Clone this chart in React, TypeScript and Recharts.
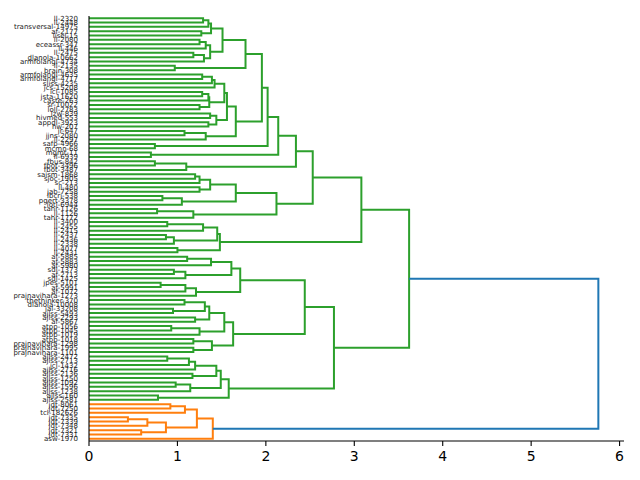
import React from "react";
import { LineChart, Line, XAxis, YAxis } from "recharts";

// dendrogram leaves, top to bottom
const leafLabels = [
  "ll-2320", "ll-2448", "transversal-14975", "af-2177", "lisel-15", "ll-2080",
  "eceassr-347", "ll-446", "ll-2475", "dlanola-10662", "armfolangl-4734", "ll-2135",
  "brain-308", "armfolangl-4635", "armfolangl-4717", "sliss-4235", "jcs-15208", "icl-1085",
  "jsta-11620", "caste-263", "sr-10022", "loll-2783", "lzw-839", "hivmed-553",
  "appdl-3923", "hw-207", "jr-647", "jjns-2080", "ll-2297", "safp-4966",
  "mcmn-68", "mgmt-11", "ll-6939", "fbus-842", "fbot-3496", "fbot-3487",
  "saism-1868", "sjoc-1905", "sc-213", "ll-480", "jab-7258", "lbcrj-538",
  "pgert-3378", "lotl-6944", "tahr-1126", "ll-1126", "tahr-1772", "ll-3400",
  "ll-2455", "ll-2415", "ll-2437", "ll-2436", "ll-2338", "ll-4077",
  "ll-2431", "af-5885", "af-5883", "af-5980", "sdl-1373", "af-2713",
  "sdl-1425", "jpes-5101", "af-5991", "af-1072", "prajnavihara-1273", "thethinker-370",
  "dlanola-10008", "jal-33208", "ajlss-5493", "ajlss-2293", "af-5867", "atpp-1056",
  "atpp-1045", "atpp-1019", "atpp-1018", "prajnavihara-1298", "prajnavihara-1995", "prajnavihara-1101",
  "ajlss-2472", "ajlss-2713", "jcl-1432", "ajlss-2716", "ajlss-2136", "ajlss-1250",
  "ajlss-1092", "ajlss-1596", "ajlss-1238", "ajlss-160", "ajlss-2581", "jdt-8061",
  "jdt-7250", "tcl-182626", "jdt-7335", "jdt-7339", "jdt-7348", "jdt-7321",
  "jdt-7331", "asw-1970",
];

// [height, upper child, lower child]; a number is a leaf index
type Node = number | [number, Node, Node];

const clusterA: Node = [1.77,
  [1.51,
    [1.38, [1.35, [1.29, 0, 1], 2], [1.27, 3, 4]],
    [1.37, [1.32, [1.25, 5, 6], 7], [1.3, [1.18, 8, 9], 10]]],
  [0.97, 11, 12]];

const clusterB: Node = [1.66,
  [1.56,
    [1.53,
      [1.42, [1.39, [1.28, 13, 14], 15], 16],
      [1.36, [1.35, [1.28, 17, 18], 19], [1.25, 20, 21]]],
    [1.44, [1.37, 22, 23], [1.35, 24, 25]]],
  [1.32, [1.08, 26, 27], 28]];

const clusterC: Node = [2.12,
  [1.66,
    [1.37, [1.25, [1.2, 36, 37], 38], [1.25, 39, 40]],
    [1.05, [0.83, 41, 42], 43]],
  [1.18, [0.77, 44, 45], 46]];

const clusterD: Node = [1.48,
  [1.45, [1.29, [0.885, 47, 48], 49], [0.96, [0.87, 50, 51], 52]],
  [1.0, 53, 54]];

const clusterE: Node = [1.71,
  [1.61, [1.38, [1.11, 55, 56], 57], [1.09, [0.96, 58, 59], 60]],
  [1.21, [1.09, [0.81, 61, 62], 63], 64]];

const clusterF: Node = [1.63,
  [1.53,
    [1.36, [1.31, [1.08, 65, 66], [0.95, 67, 68]], [1.2, 69, 70]],
    [1.25, [0.93, 71, 72], 73]],
  [1.39, [1.18, 74, 75], [1.18, 76, 77]]];

const clusterG: Node = [1.58,
  [1.49,
    [1.44, [1.2, [1.13, [0.885, 78, 79], 80], 81], [1.17, 82, 83]],
    [1.145, [0.98, 84, 85], 86]],
  [0.78, 87, 88]];

const greenTree: Node = [3.62,
  [3.08,
    [2.53,
      [2.34,
        [2.14, [2.02, [1.955, clusterA, clusterB], [0.745, 29, 30]], [0.7, 31, 32]],
        [1.1, [0.745, 33, 34], 35]],
      clusterC],
    clusterD],
  [2.77, [2.44, clusterE, clusterF], clusterG]];

const orangeTree: Node = [1.4,
  [1.22, [1.085, [0.92, 89, 90], 91], [0.87, [0.66, [0.44, 92, 93], 94], [0.59, 95, 96]]],
  97];

const rootHeight = 5.76;
const xTicks = [0, 1, 2, 3, 4, 5, 6];

const BLUE = "#1f77b4";
const GREEN = "#2ca02c";
const ORANGE = "#ff7f0e";

interface Link {
  color: string;
  points: { x: number; y: number }[];
}

const leafPos = (i: number) => 5 + 10 * i;

function uLink(h: number, a: { x: number; y: number }, b: { x: number; y: number }, color: string): Link {
  return {
    color,
    points: [
      { x: a.x, y: a.y },
      { x: h, y: a.y },
      { x: h, y: b.y },
      { x: b.x, y: b.y },
    ],
  };
}

function walk(node: Node, color: string, out: Link[]): { x: number; y: number } {
  if (typeof node === "number") return { x: 0, y: leafPos(node) };
  const [h, l, r] = node;
  const a = walk(l, color, out);
  const b = walk(r, color, out);
  out.push(uLink(h, a, b, color));
  return { x: h, y: (a.y + b.y) / 2 };
}

const links: Link[] = [];
const g = walk(greenTree, GREEN, links);
const o = walk(orangeTree, ORANGE, links);
links.push(uLink(rootHeight, g, o, BLUE));

const yTicks = leafLabels.map((_, i) => leafPos(i));
const yMax = leafLabels.length * 10;

export default function App() {
  return (
    <div style={{ fontFamily: "DejaVu Sans", opacity: 0.999 }}>
      <LineChart width={624} height={464} margin={{ top: 8, right: 8, bottom: 0, left: 0 }}>
        <XAxis
          type="number"
          dataKey="x"
          domain={[0, 6.05]}
          ticks={xTicks}
          allowDataOverflow
          height={31}
          tickSize={5}
          tickMargin={5}
          axisLine={{ stroke: "#000", strokeWidth: 1.1 }}
          tickLine={{ stroke: "#000", strokeWidth: 1.1 }}
          tick={{ fontSize: 14, fill: "#000", fontFamily: "DejaVu Sans" }}
        />
        <XAxis
          xAxisId="top"
          orientation="top"
          type="number"
          domain={[0, 6.05]}
          height={0}
          tick={false}
          tickLine={false}
          axisLine={{ stroke: "#000", strokeWidth: 1.1 }}
        />
        <YAxis
          type="number"
          domain={[0, yMax]}
          reversed
          allowDataOverflow
          ticks={yTicks}
          interval={0}
          width={81}
          tickSize={5}
          tickMargin={6}
          tickLine={false}
          axisLine={{ stroke: "#000", strokeWidth: 1.1 }}
          tickFormatter={(v: number) => leafLabels[Math.round((v - 5) / 10)]}
          tick={{ fontSize: 7, fill: "#222", fontFamily: "DejaVu Sans" }}
        />
        <YAxis
          yAxisId="right"
          orientation="right"
          type="number"
          domain={[0, yMax]}
          width={0}
          tick={false}
          tickLine={false}
          axisLine={{ stroke: "#000", strokeWidth: 1.1 }}
        />
        {links.map((link, i) => (
          <Line
            key={i}
            data={link.points}
            dataKey="y"
            stroke={link.color}
            strokeWidth={2}
            dot={false}
            activeDot={false}
            isAnimationActive={false}
          />
        ))}
      </LineChart>
    </div>
  );
}
